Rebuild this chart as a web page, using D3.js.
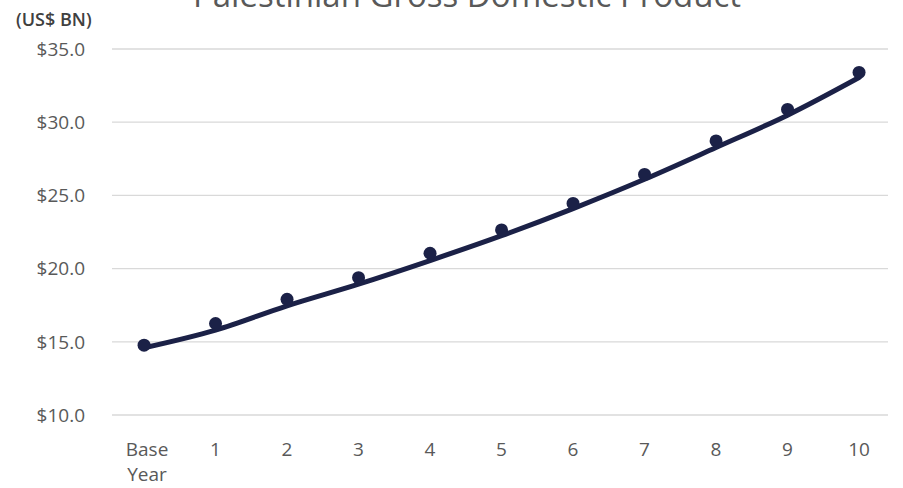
<!DOCTYPE html>
<html>
<head>
<meta charset="utf-8">
<script src="https://cdn.jsdelivr.net/npm/d3@7"></script>
<style>
    body { margin: 0; background: #fff; }
    text { font-family: "Open Sans", "Noto Sans", sans-serif; }
</style>
</head>
<body>
<svg id="chart" width="903" height="488"></svg>
<script>
// Data
const categories = ["Base Year", "1", "2", "3", "4", "5", "6", "7", "8", "9", "10"];
const gdpPoints = [14.77, 16.25, 17.9, 19.38, 21.05, 22.64, 24.45, 26.43, 28.72, 30.87, 33.4];
const gdpTrend = [14.59, 15.8, 17.46, 18.94, 20.55, 22.25, 24.1, 26.1, 28.27, 30.48, 33.05];
const yTicks = [10, 15, 20, 25, 30, 35];

const svg = d3.select("#chart");
const navy = "#1b2147";

const x = d3.scaleBand()
    .domain(categories)
    .range([108.3, 894.8]);

const y = d3.scaleLinear()
    .domain([10, 35])
    .range([415, 49]);

const cx = d => x(d) + x.bandwidth() / 2;

// Gridlines
svg.append("g")
    .selectAll("line")
    .data(yTicks)
    .enter().append("line")
    .attr("x1", 112)
    .attr("x2", 888)
    .attr("y1", d => y(d))
    .attr("y2", d => y(d))
    .attr("stroke", "#d9d9d9")
    .attr("stroke-width", 1.3);

// Y axis labels
svg.append("g")
    .selectAll("text")
    .data(yTicks)
    .enter().append("text")
    .attr("x", 85)
    .attr("y", d => y(d))
    .attr("dy", "0.36em")
    .attr("text-anchor", "end")
    .attr("fill", "#595959")
    .style("font-size", "19px")
    .text(d => "$" + d.toFixed(1));

// X axis labels (wrap "Base Year")
const xl = svg.append("g")
    .selectAll("text")
    .data(categories)
    .enter().append("text")
    .attr("x", d => cx(d))
    .attr("y", 456)
    .attr("text-anchor", "middle")
    .attr("fill", "#595959")
    .style("font-size", "19px");

xl.each(function (d) {
    const parts = d.split(" ");
    const t = d3.select(this);
    parts.forEach((p, i) => {
        t.append("tspan")
            .attr("x", cx(d) + (parts.length > 1 ? 3 : 0))
            .attr("dy", i === 0 ? 0 : 25)
            .text(p);
    });
});

// Trend line
const line = d3.line()
    .x((d, i) => cx(categories[i]))
    .y(d => y(d))
    .curve(d3.curveMonotoneX);

svg.append("path")
    .datum(gdpTrend)
    .attr("d", line)
    .attr("fill", "none")
    .attr("stroke", navy)
    .attr("stroke-width", 5)
    .attr("stroke-linecap", "round");

// Points
svg.append("g")
    .selectAll("circle")
    .data(gdpPoints)
    .enter().append("circle")
    .attr("cx", (d, i) => cx(categories[i]))
    .attr("cy", d => y(d))
    .attr("r", 6.5)
    .attr("fill", navy);

// Title (cut off at top, as in the original)
svg.append("text")
    .attr("x", 467)
    .attr("y", 7)
    .attr("text-anchor", "middle")
    .attr("fill", "#595959")
    .style("font-size", "33px")
    .text("Palestinian Gross Domestic Product");

// Unit label
svg.append("text")
    .attr("x", 16)
    .attr("y", 26)
    .attr("fill", "#404040")
    .style("font-size", "18px")
    .style("font-weight", "600")
    .text("(US$ BN)");
</script>
</body>
</html>
